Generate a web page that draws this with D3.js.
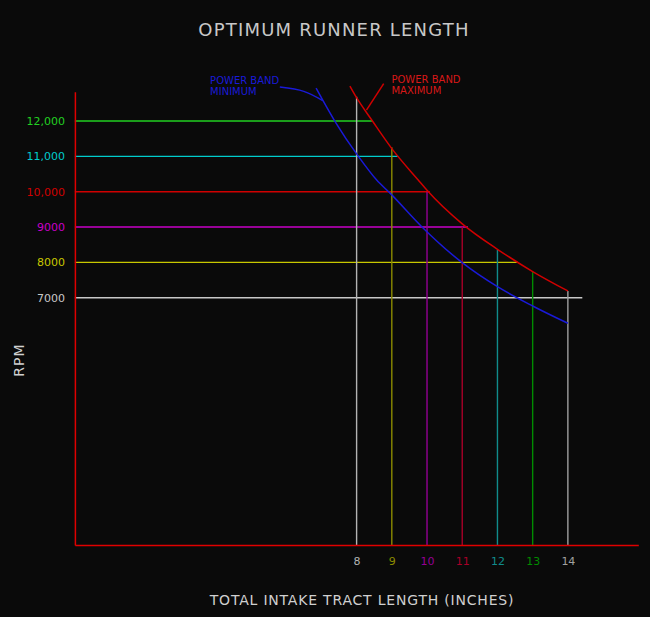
<!DOCTYPE html>
<html>
<head>
<meta charset="utf-8">
<script src="https://cdn.jsdelivr.net/npm/d3@7"></script>
<style>
  html, body { margin: 0; padding: 0; background: #0a0a0a; }
  svg { display: block; }
  text { font-family: "DejaVu Sans", sans-serif; }
</style>
</head>
<body>
<div class="canvas"></div>
<script>
// rpm levels (horizontal guide lines) and where each one stops
const rpmLevels = [12000, 11000, 10000, 9000, 8000, 7000];
const rpmLineEnd = [8.45, 9.18, 10.08, 11.16, 12.58, 14.41];
const rpmColours = ['#22d022', '#00cccc', '#d00000', '#c800c8', '#c8c800', '#c8c8c8'];

// runner lengths (vertical guide lines) and the rpm they reach
const lengths = [8, 9, 10, 11, 12, 13, 14];
const lengthTop = [12690, 11257, 10000, 9010, 8350, 7735, 7190];
const lengthColours = ['#b4b4b4', '#8c8c00', '#940094', '#a80028', '#108c8c', '#008c00', '#a0a0a0'];

// power band curves
const maxLength = [7.81, 8, 8.45, 9, 9.75, 10, 11, 12, 13, 14];
const maxRpm = [12990, 12660, 12000, 11220, 10330, 10040, 9090, 8370, 7740, 7190];
const minLength = [6.85, 7.38, 8.05, 8.57, 8.95, 9.85, 11, 12, 13, 14];
const minRpm = [12930, 12000, 11000, 10330, 9960, 9010, 7990, 7310, 6765, 6275];

// leader lines from the labels to the curves
const minLeader = [[5.82, 12960], [6.5, 12840], [7.04, 12576]];
const maxLeader = [[8.77, 13060], [8.28, 12310]];

const width = 650, height = 617;

const svg = d3.select('.canvas')
  .append('svg')
  .attr('width', width)
  .attr('height', height);

svg.append('rect')
  .attr('width', width)
  .attr('height', height)
  .attr('fill', '#0a0a0a');

const x = d3.scaleLinear().domain([0, 16]).range([74.9, 638.3]);
const y = d3.scaleLinear().domain([0, 12830]).range([545, 91.7]);

// horizontal rpm lines
svg.append('g')
  .selectAll('line')
  .data(rpmLevels)
  .enter()
  .append('line')
  .attr('x1', x(0))
  .attr('x2', (d, i) => x(rpmLineEnd[i]))
  .attr('y1', d => y(d))
  .attr('y2', d => y(d))
  .attr('stroke', (d, i) => rpmColours[i])
  .attr('stroke-width', 1.4);

// vertical length lines
svg.append('g')
  .selectAll('line')
  .data(lengths)
  .enter()
  .append('line')
  .attr('x1', d => x(d))
  .attr('x2', d => x(d))
  .attr('y1', y(0))
  .attr('y2', (d, i) => y(lengthTop[i]))
  .attr('stroke', (d, i) => lengthColours[i])
  .attr('stroke-width', 1.4);

const curve = d3.line()
  .x(d => x(d[0]))
  .y(d => y(d[1]))
  .curve(d3.curveMonotoneX);

svg.append('path')
  .attr('d', curve(d3.zip(minLength, minRpm)))
  .attr('fill', 'none')
  .attr('stroke', '#1a1ad8')
  .attr('stroke-width', 1.5);

svg.append('path')
  .attr('d', curve(d3.zip(maxLength, maxRpm)))
  .attr('fill', 'none')
  .attr('stroke', '#d00000')
  .attr('stroke-width', 1.5);

const leader = d3.line()
  .x(d => x(d[0]))
  .y(d => y(d[1]))
  .curve(d3.curveNatural);

svg.append('path')
  .attr('d', leader(minLeader))
  .attr('fill', 'none')
  .attr('stroke', '#1a1ad8')
  .attr('stroke-width', 1.5);

svg.append('path')
  .attr('d', leader(maxLeader))
  .attr('fill', 'none')
  .attr('stroke', '#d00000')
  .attr('stroke-width', 1.5);

// axes
const xAxis = svg.append('g')
  .attr('transform', `translate(0, ${y(0)})`)
  .call(d3.axisBottom(x).tickValues(lengths).tickSize(0).tickPadding(12));

xAxis.select('.domain').attr('stroke', '#e00000').attr('stroke-width', 1.5);
xAxis.selectAll('text')
  .attr('fill', (d, i) => lengthColours[i])
  .style('font-size', '11px');

const yAxis = svg.append('g')
  .attr('transform', `translate(${x(0)}, 0)`)
  .call(d3.axisLeft(y)
    .tickValues(rpmLevels)
    .tickSize(0)
    .tickPadding(10)
    .tickFormat(d => d >= 10000 ? d3.format(',')(d) : d));

yAxis.select('.domain').attr('stroke', '#e00000').attr('stroke-width', 1.5);
yAxis.selectAll('text')
  .attr('fill', (d, i) => rpmColours[i])
  .style('font-size', '11px');

// titles
svg.append('text')
  .attr('x', 334)
  .attr('y', 36)
  .attr('text-anchor', 'middle')
  .attr('fill', '#c8c8c8')
  .style('font-size', '18px')
  .style('letter-spacing', '1.2px')
  .text('OPTIMUM RUNNER LENGTH');

svg.append('text')
  .attr('x', 362)
  .attr('y', 605)
  .attr('text-anchor', 'middle')
  .attr('fill', '#d0d0d0')
  .style('font-size', '14px')
  .style('letter-spacing', '0.8px')
  .text('TOTAL INTAKE TRACT LENGTH (INCHES)');

svg.append('text')
  .attr('transform', 'translate(24, 360) rotate(-90)')
  .attr('text-anchor', 'middle')
  .attr('fill', '#d0d0d0')
  .style('font-size', '14px')
  .style('letter-spacing', '1px')
  .text('RPM');

// curve labels
const labels = [
  { lines: ['POWER BAND', 'MINIMUM'], colour: '#1a1ad8', at: [3.84, 13050] },
  { lines: ['POWER BAND', 'MAXIMUM'], colour: '#d81818', at: [8.99, 13080] }
];

labels.forEach(l => {
  const t = svg.append('text')
    .attr('x', x(l.at[0]))
    .attr('y', y(l.at[1]))
    .attr('fill', l.colour)
    .style('font-size', '10px');
  l.lines.forEach((s, i) => {
    t.append('tspan')
      .attr('x', x(l.at[0]))
      .attr('dy', i === 0 ? 0 : 11)
      .text(s);
  });
});
</script>
</body>
</html>
